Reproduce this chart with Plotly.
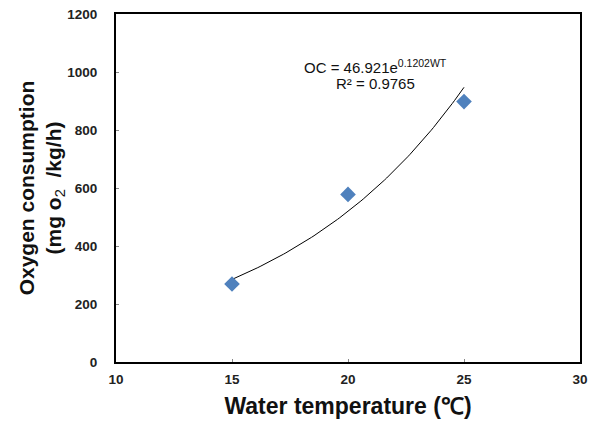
import numpy as np
import plotly.graph_objects as go

# Data
water_temp = [15, 20, 25]
oxygen_consumption = [269, 578, 898]

# Exponential trendline parameters (as printed on the chart)
fit_a = 46.921
fit_b = 0.1202
r_squared = 0.9765

x_ticks = [10, 15, 20, 25, 30]
y_ticks = [0, 200, 400, 600, 800, 1000, 1200]

FONT = "Liberation Sans, Arial, sans-serif"

xf = np.linspace(min(water_temp), max(water_temp), 100)
yf = fit_a * np.exp(fit_b * xf)

fig = go.Figure()
fig.add_trace(go.Scatter(x=xf, y=yf, mode="lines",
                         line=dict(color="black", width=1), showlegend=False,
                         hoverinfo="skip"))
fig.add_trace(go.Scatter(x=water_temp, y=oxygen_consumption, mode="markers",
                         marker=dict(symbol="diamond", size=12, color="#4F81BD"),
                         showlegend=False))

plot_l, plot_r, plot_t, plot_b = 116, 580, 14, 362
W, H = 594, 425
def px_to_paper(px, py):
    return ((px - plot_l) / (plot_r - plot_l), (plot_b - py) / (plot_b - plot_t))

ax1, ay1 = px_to_paper(375, 66)
ax2, ay2 = px_to_paper(375, 83)
fig.add_annotation(x=ax1, y=ay1, xref="paper", yref="paper", showarrow=False,
                   xanchor="center", yanchor="middle",
                   text=f"OC = {fit_a}e<sup>{fit_b}WT</sup>",
                   font=dict(family=FONT, size=15, color="#111"))
fig.add_annotation(x=ax2, y=ay2, xref="paper", yref="paper", showarrow=False,
                   xanchor="center", yanchor="middle",
                   text=f"R² = {r_squared}",
                   font=dict(family=FONT, size=15, color="#111"))

fig.update_layout(
    width=W, height=H,
    margin=dict(l=plot_l, r=W - plot_r, t=plot_t, b=H - plot_b),
    paper_bgcolor="white", plot_bgcolor="white",
    font=dict(family=FONT, color="#222"),
)
fig.update_xaxes(range=[10, 30], tickvals=x_ticks, ticktext=[str(v) for v in x_ticks],
                 showgrid=False, zeroline=False, showline=True, mirror=True,
                 linecolor="black", linewidth=2, ticks="inside", ticklen=3,
                 tickcolor="#888", ticklabelstandoff=4, automargin=False,
                 tickfont=dict(family=FONT, size=13.5, color="#222", weight="bold"),
                 title=dict(text="<b>Water temperature (℃)</b>",
                            font=dict(family=FONT, size=23, color="#111"),
                            standoff=12))
fig.update_yaxes(range=[0, 1200], tickvals=y_ticks, ticktext=[str(v) for v in y_ticks],
                 showgrid=False, zeroline=False, showline=True, mirror=True,
                 linecolor="black", linewidth=2, ticks="inside", ticklen=3,
                 tickcolor="#888", ticklabelstandoff=14, automargin=False,
                 tickfont=dict(family=FONT, size=13.5, color="#222", weight="bold"),
                 title=dict(text="<b>Oxygen consumption</b><br><b>(mg o</b><sub>2</sub><b>  /kg/h)</b>",
                            font=dict(family=FONT, size=21, color="#111"),
                            standoff=0))

fig.write_html("out.html")
